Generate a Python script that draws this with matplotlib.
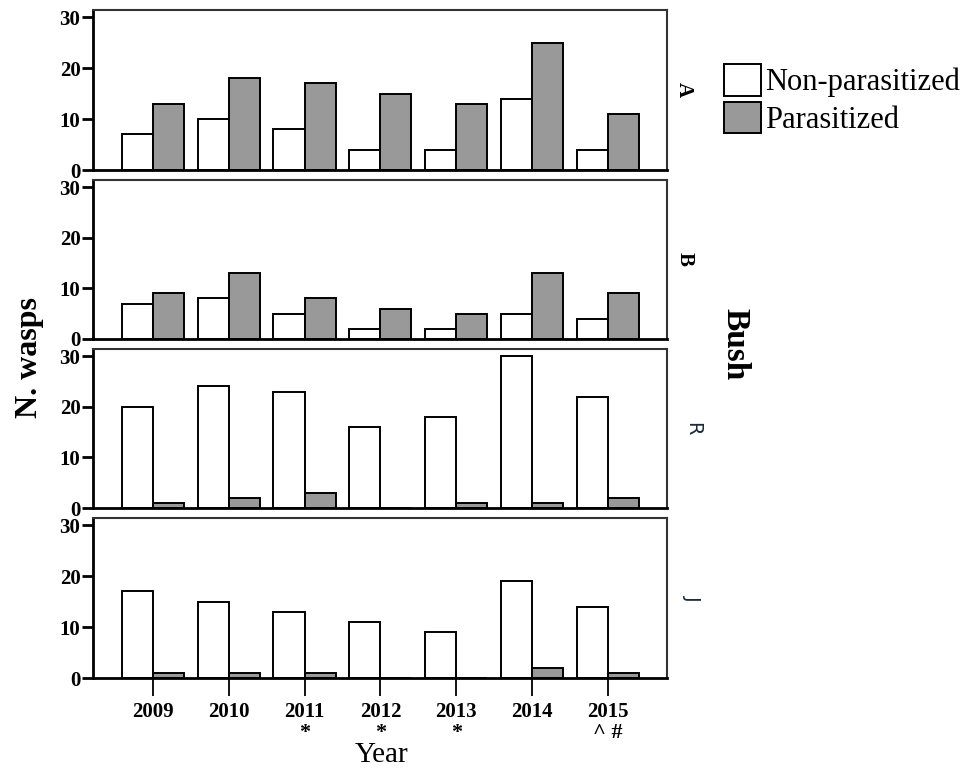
import matplotlib.pyplot as plt
import numpy as np

years = ['2009', '2010', '2011', '2012', '2013', '2014', '2015']
marks = ['', '', '*', '*', '*', '', '^ #']
bushes = ['A', 'B', 'R', 'J']

non_parasitized = {
    'A': [7, 10, 8, 4, 4, 14, 4],
    'B': [7, 8, 5, 2, 2, 5, 4],
    'R': [20, 24, 23, 16, 18, 30, 22],
    'J': [17, 15, 13, 11, 9, 19, 14],
}
parasitized = {
    'A': [13, 18, 17, 15, 13, 25, 11],
    'B': [9, 13, 8, 6, 5, 13, 9],
    'R': [1, 2, 3, 0, 1, 1, 2],
    'J': [1, 1, 1, 0, 0, 2, 1],
}

serif = 'Liberation Serif'
gray = '#999999'

fig = plt.figure(figsize=(9.78, 7.68), dpi=100)
W, H = 978, 768
left, right = 93, 667
panel_px = [(10, 170), (180, 339), (349, 508), (518, 678)]

x = np.arange(len(years))
bw = 0.41

for i, b in enumerate(bushes):
    top, bot = panel_px[i]
    ax = fig.add_axes([left / W, 1 - bot / H, (right - left) / W, (bot - top) / H])
    ax.bar(x - bw / 2, non_parasitized[b], bw, color='white', edgecolor='black', linewidth=1.4,
           label='Non-parasitized')
    ax.bar(x + bw / 2, parasitized[b], bw, color=gray, edgecolor='black', linewidth=1.4,
           label='Parasitized')
    ax.set_xlim(-0.79, 6.78)
    ax.set_ylim(0, 31.4)
    ax.set_yticks([0, 10, 20, 30])
    ax.set_yticklabels(['0', '10', '20', '30'], fontfamily=serif, fontweight='bold', fontsize=15)
    ax.tick_params(axis='y', direction='out', length=8, width=2, pad=1)
    for s in ax.spines.values():
        s.set_linewidth(1.5)
        s.set_color('#333333')
    ax.spines['bottom'].set_color('black')
    ax.spines['bottom'].set_linewidth(2)
    ax.spines['left'].set_color('black')
    ax.spines['left'].set_linewidth(2)
    if b == 'J':
        ax.set_xticks(x)
        ax.set_xticklabels(years, fontfamily=serif, fontweight='bold', fontsize=15)
        ax.tick_params(axis='x', direction='out', length=13, width=1.3, pad=4)
        for xi, m in zip(x, marks):
            if m:
                ax.text(xi, -10.8, m, ha='center', va='center', fontfamily=serif,
                        fontweight='bold', fontsize=16)
    else:
        ax.set_xticks([])
    if b in ('A', 'B'):
        ax.text(1.03, 0.5, b, transform=ax.transAxes, rotation=270, ha='center', va='center',
                fontfamily=serif, fontweight='bold', fontsize=15)
    else:
        ax.text(1.045, 0.5, b, transform=ax.transAxes, rotation=270, ha='center', va='center',
                fontfamily='DejaVu Sans', fontsize=14, color='#1a2a3a')
    if b == 'A':
        handles, labels = ax.get_legend_handles_labels()
        fig.legend(handles, labels, loc='upper left', bbox_to_anchor=(712 / W, 1 - 52 / H),
                   frameon=False, prop={'family': serif, 'size': 22},
                   handlelength=1.2, handleheight=1.2, handletextpad=0.15, labelspacing=0.15,
                   borderaxespad=0)

fig.text(382 / W, 1 - 755 / H, 'Year', ha='center', va='center',
         fontfamily=serif, fontsize=21)
fig.text(30 / W, 1 - 357 / H, 'N. wasps', rotation=90, ha='center', va='center',
         fontfamily=serif, fontweight='bold', fontsize=23)
fig.text(735 / W, 1 - 344 / H, 'Bush', rotation=270, ha='center', va='center',
         fontfamily=serif, fontweight='bold', fontsize=24)

fig.savefig('out.png', dpi=100)
